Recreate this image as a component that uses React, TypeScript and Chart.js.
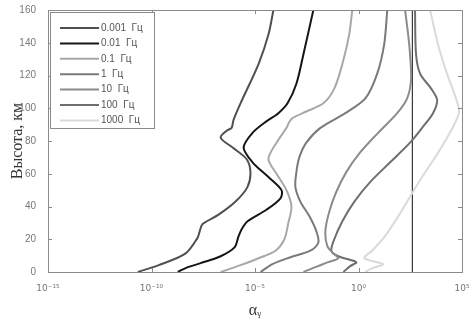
import { useEffect, useRef } from 'react';
import { Chart, registerables } from 'chart.js';

Chart.register(...registerables);

// Legend labels (frequencies)
const labels = ['0.001  Гц', '0.01  Гц', '0.1  Гц', '1  Гц', '10  Гц', '100  Гц', '1000  Гц'];
const colors = ['#505050', '#151515', '#a8a8a8', '#7a7a7a', '#8c8c8c', '#6e6e6e', '#dadada'];

// Altitude (km) and log10(alpha), per curve
const alt1 = [160, 145, 127, 103, 92.8, 88, 86.3, 82, 76, 69, 61, 52, 43, 35, 29.3, 25, 21, 11.4, 4.2, 0];
const logA1 = [-4.11, -4.35, -4.83, -5.7, -6.04, -6.13, -6.37, -6.66, -6.08, -5.41, -5.22, -5.36, -5.94, -6.76, -7.53, -7.67, -7.77, -8.35, -9.65, -10.66];

const alt2 = [160, 133, 115, 103, 97, 92, 85, 76, 67, 58, 50, 45, 38, 31, 26, 21.6, 15, 9.6, 5.4, 2.4, 0];
const logA2 = [-2.18, -2.66, -3.0, -3.43, -3.87, -4.45, -5.12, -5.55, -5.12, -4.35, -3.72, -3.77, -4.45, -5.36, -5.65, -5.8, -5.99, -6.66, -7.63, -8.35, -8.73];

const alt3 = [160, 145, 127, 112, 103, 98, 94, 91.7, 88, 79, 69, 60, 50, 40, 30, 20, 13, 8.4, 4.2, 0];
const logA3 = [-0.3, -0.45, -0.78, -1.17, -1.7, -2.52, -3.19, -3.34, -3.48, -3.96, -4.35, -3.96, -3.48, -3.24, -3.39, -3.58, -4.01, -4.83, -5.7, -6.66];

const alt4 = [160, 139, 121, 106, 97, 88, 79, 70, 61, 52, 43, 34, 25, 18, 13, 9, 4.8, 0];
const logA4 = [1.39, 1.24, 0.9, 0.33, -0.64, -1.84, -2.52, -2.86, -3.0, -3.05, -2.81, -2.37, -2.04, -1.94, -2.33, -3.29, -4.16, -4.73];

const alt5 = [160, 139, 118, 106, 97, 85, 73, 61, 49, 37, 25, 16, 11.4, 8.4, 6, 3, 0];
const logA5 = [2.25, 2.45, 2.54, 2.35, 1.87, 0.95, 0.08, -0.59, -1.07, -1.41, -1.6, -1.51, -1.22, -0.98, -1.46, -2.08, -2.66];

const alt6 = [160, 133, 121, 112, 105, 97, 88, 79, 67, 55, 43, 31, 20, 13, 9.6, 6, 3.6, 0];
const logA6 = [2.73, 2.78, 2.98, 3.51, 3.8, 3.6, 3.07, 2.49, 1.53, 0.57, -0.2, -0.78, -1.17, -1.31, -0.98, -0.11, -0.4, -0.73];

const alt7 = [160, 139, 121, 106, 98, 91, 82, 70, 58, 46, 34, 22, 13, 8.4, 4.8, 2.4, 0];
const logA7 = [3.46, 3.84, 4.28, 4.71, 4.86, 4.66, 4.28, 3.7, 3.07, 2.49, 1.92, 1.29, 0.66, 0.28, 1.19, 0.66, 0.33];

// Vertical reference line (log10 alpha)
const refLogA = 2.6;

const xTickExps = [-15, -10, -5, 0, 5];
const yMin = 0;
const yMax = 160;
const yStep = 20;

const alts = [alt1, alt2, alt3, alt4, alt5, alt6, alt7];
const logAs = [logA1, logA2, logA3, logA4, logA5, logA6, logA7];

const sup: Record<string, string> = { '-': '⁻', '0': '⁰', '1': '¹', '2': '²', '3': '³', '4': '⁴', '5': '⁵', '6': '⁶', '7': '⁷', '8': '⁸', '9': '⁹' };
const toSup = (n: number) => String(n).split('').map((c) => sup[c] ?? c).join('');

const framePlugin = {
  id: 'frame',
  afterDraw(chart: any) {
    const { ctx, chartArea: a, scales } = chart;
    ctx.save();
    ctx.strokeStyle = '#8a8a8a';
    ctx.lineWidth = 1;
    ctx.strokeRect(a.left + 0.5, a.top + 0.5, a.right - a.left, a.bottom - a.top);
    ctx.beginPath();
    for (let v = yMin; v <= yMax; v += yStep) {
      const y = Math.round(scales.y.getPixelForValue(v)) + 0.5;
      ctx.moveTo(a.left, y); ctx.lineTo(a.left + 4, y);
      ctx.moveTo(a.right, y); ctx.lineTo(a.right - 4, y);
    }
    for (const e of xTickExps) {
      const x = Math.round(scales.x.getPixelForValue(Math.pow(10, e))) + 0.5;
      ctx.moveTo(x, a.bottom); ctx.lineTo(x, a.bottom - 4);
      ctx.moveTo(x, a.top); ctx.lineTo(x, a.top + 4);
    }
    ctx.stroke();

    // legend box
    const x0 = a.left + 2;
    const y0 = a.top + 2;
    const w = 104;
    const h = 116;
    ctx.fillStyle = '#ffffff';
    ctx.fillRect(x0, y0, w, h);
    ctx.strokeStyle = '#8a8a8a';
    ctx.strokeRect(x0 + 0.5, y0 + 0.5, w, h);
    ctx.font = '10px "Liberation Sans", Arial, sans-serif';
    ctx.textBaseline = 'middle';
    labels.forEach((lab, i) => {
      const y = y0 + 16 + i * 15.4;
      ctx.strokeStyle = colors[i];
      ctx.lineWidth = 2;
      ctx.beginPath();
      ctx.moveTo(x0 + 10, y);
      ctx.lineTo(x0 + 49, y);
      ctx.stroke();
      ctx.fillStyle = '#555';
      ctx.fillText(lab, x0 + 51, y);
    });
    ctx.restore();
  },
};

export default function App() {
  const ref = useRef<HTMLCanvasElement | null>(null);
  useEffect(() => {
    document.body.style.margin = '0';
    const canvas = ref.current!;
    const datasets: any[] = alts.map((al, i) => ({
      label: labels[i],
      data: al.map((y, j) => ({ x: Math.pow(10, logAs[i][j]), y })),
      borderColor: colors[i],
      borderWidth: 2,
      pointRadius: 0,
      showLine: true,
      tension: 0.3,
      fill: false,
    }));
    datasets.push({
      label: 'ref',
      data: [{ x: Math.pow(10, refLogA), y: yMin }, { x: Math.pow(10, refLogA), y: yMax }],
      borderColor: '#111',
      borderWidth: 1,
      pointRadius: 0,
      showLine: true,
      tension: 0,
    });
    const chart = new Chart(canvas, {
      type: 'scatter',
      data: { datasets },
      options: {
        animation: false,
        responsive: false,
        maintainAspectRatio: false,
        layout: { padding: { top: 5, right: 11, left: 0, bottom: 0 } },
        plugins: { legend: { display: false }, tooltip: { enabled: false } },
        scales: {
          x: {
            type: 'logarithmic',
            min: Math.pow(10, xTickExps[0]),
            max: Math.pow(10, xTickExps[xTickExps.length - 1]),
            grid: { display: false },
            border: { display: false },
            afterBuildTicks: (s: any) => {
              s.ticks = xTickExps.map((e) => ({ value: Math.pow(10, e) }));
            },
            afterFit: (s: any) => { s.height = 48; },
            ticks: {
              autoSkip: false,
              maxRotation: 0,
              padding: 3,
              color: '#777',
              font: { family: '"DejaVu Sans", sans-serif', size: 9 },
              callback: (v: any) => '10' + toSup(Math.round(Math.log10(Number(v)))),
            },
            title: {
              display: true,
              text: 'αᵧ',
              color: '#333',
              font: { family: '"Liberation Serif", serif', size: 16 },
              padding: { top: 1, bottom: 0 },
            },
          },
          y: {
            min: yMin,
            max: yMax,
            grid: { display: false },
            border: { display: false },
            afterFit: (s: any) => { s.width = 48; },
            ticks: {
              stepSize: yStep,
              padding: 4,
              color: '#777',
              font: { family: '"Liberation Sans", Arial, sans-serif', size: 10 },
            },
            title: {
              display: true,
              text: 'Высота, км',
              color: '#333',
              font: { family: '"Liberation Serif", serif', size: 16 },
              padding: { top: 8, bottom: 0 },
            },
          },
        },
      },
      plugins: [framePlugin],
    });
    return () => chart.destroy();
  }, []);
  return <canvas ref={ref} width={473} height={320} style={{ display: 'block' }} />;
}
